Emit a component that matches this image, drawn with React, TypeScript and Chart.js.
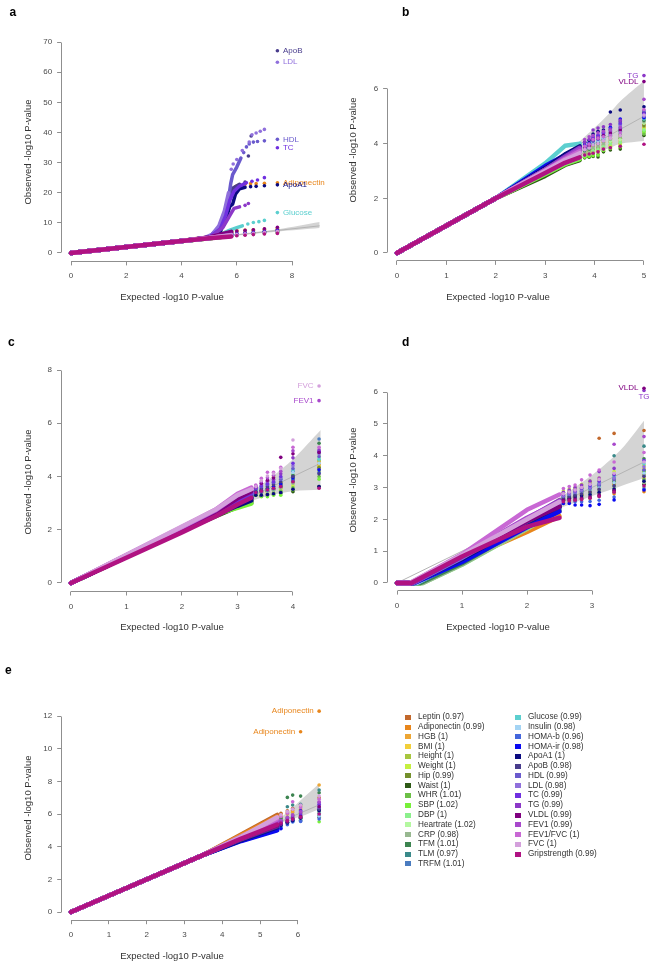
import React, { useEffect, useRef } from 'react';
import { Chart, registerables } from 'chart.js';

Chart.register(...registerables);

const FONT = '"Liberation Sans", Arial, Helvetica, sans-serif';
const CW = 700;
const CH = 1000;
const YW = 40;
const XH = 30;
const AXIS_COLOR = '#8f8f8f';
const TICK_COLOR = '#4a4a4a';
const TITLE_COLOR = '#333333';
const BAND_COLOR = '#d4d4d4';
const DIAG_COLOR = '#b4b4b4';

// ---------- series ----------
const seriesNames = ['Leptin','Adiponectin','HGB','BMI','Height','Weight','Hip','Waist','WHR','SBP','DBP','Heartrate','CRP','TFM','TLM','TRFM','Glucose','Insulin','HOMA-b','HOMA-ir','ApoA1','ApoB','HDL','LDL','TC','TG','VLDL','FEV1','FEV1/FVC','FVC','Gripstrength'];
const seriesLambda = ['0.97','0.99','1','1','1','1','0.99','1','1.01','1.02','1','1.02','0.98','1.01','0.97','1.01','0.99','0.98','0.96','0.98','1','0.98','0.99','0.98','0.99','0.99','0.99','0.99','1','1','0.99'];
const seriesColors = ['#c2682c','#e8861c','#eda634','#f2cf3a','#a8c63e','#c6f040','#74902c','#2e5a16','#6cc046','#78f03a','#8cf08c','#b4f8a0','#98b890','#3c8450','#3a8a8a','#4a7cc0','#5ccfcf','#a4d4f4','#4466dc','#0a0af0','#0a0a80','#483c8c','#6a5acd','#9070dc','#7030e0','#8c38c8','#800080','#a848cc','#c868d4','#d4a0dc','#b01282'];

// ---------- panel a ----------
const aXTicks = [0, 2, 4, 6, 8];
const aYTicks = [0, 10, 20, 30, 40, 50, 60, 70];
const aBandX = [5.5, 6.5, 7.5, 9.0];
const aBandHi = [5.6, 6.8, 7.9, 10.3];
const aBandLo = [5.4, 6.25, 7.15, 8.3];
const aBulkX = [0, 4, 5.0, 5.8];
const aAt50 = [5.05,null,5.1,4.95,5.0,4.95,4.9,4.9,4.95,5.0,4.9,4.95,5.05,5.0,5.0,4.95,null,5.0,5.0,5.05,null,null,null,null,null,null,5.15,5.0,4.95,4.95,4.85];
const aAt58 = [6.8,null,7.2,6.0,6.2,5.9,5.8,5.7,5.8,5.9,5.7,5.8,6.4,6.0,6.1,6.0,null,5.9,6.0,6.1,null,null,null,null,null,null,7.0,6.0,5.9,5.8,5.5];
const aTailX = [6.0, 6.3, 6.6, 7.0, 7.47];
const aTail60 = [7.1,null,7.5,6.2,6.4,6.1,6.0,5.9,6.0,6.1,5.9,6.0,6.7,6.2,6.3,6.2,null,6.1,6.2,6.4,null,null,null,null,null,null,7.3,6.2,6.1,6.0,5.7];
const aTail63 = [7.3,null,7.6,6.4,6.7,6.3,6.2,6.1,6.2,6.3,6.1,6.2,6.9,6.4,6.5,6.4,null,6.3,6.4,6.6,null,null,null,null,null,null,7.5,6.4,6.3,6.2,5.9];
const aTail66 = [7.5,null,7.7,6.6,6.9,6.5,6.4,6.3,6.4,6.5,6.3,6.4,7.1,6.6,6.7,6.6,null,6.5,6.6,6.8,null,null,null,null,null,null,7.7,6.6,6.5,6.4,6.1];
const aTail70 = [7.7,null,7.9,6.8,7.2,6.8,6.7,6.5,6.7,6.8,6.6,6.7,7.4,6.9,7.0,6.9,null,6.8,6.9,7.1,null,null,null,null,null,null,8.0,6.9,6.8,6.7,6.3];
const aTail747 = [7.9,null,8.2,7.0,7.5,7.0,6.9,6.7,6.9,7.1,6.8,7.0,7.7,7.2,7.3,7.2,null,7.1,7.3,7.6,null,null,null,null,null,null,8.5,7.3,7.1,7.0,6.5];
const aAdipoLine = [[4,4],[5.0,5.0],[5.4,8],[5.6,13],[5.7,17],[5.8,20.5],[5.95,22],[6.1,22.6]];
const aAdipoPts = [[6.3,22.8],[6.5,23.0],[6.7,23.0],[7.0,23.1],[7.47,23.3]];
const aGlucoseLine = [[4,4],[5.0,5.1],[5.5,6.5],[5.75,7.6],[6.0,8.4],[6.2,9.0]];
const aGlucosePts = [[6.4,9.6],[6.6,10.1],[6.8,10.4],[7.0,10.8],[7.47,13.4]];
const aApoA1Line = [[4,4],[5.0,5.0],[5.4,7],[5.6,11],[5.75,15.5],[5.85,16.2],[5.95,19.5],[6.1,21.3],[6.3,21.8]];
const aApoA1Pts = [[6.5,22.0],[6.7,22.1],[7.0,22.3],[7.47,22.6]];
const aApoBLine = [[4,4],[5.0,5.2],[5.35,8.5],[5.55,13],[5.7,18],[5.85,21.5],[6.1,22.8]];
const aApoBPts = [[6.3,23.5],[6.42,32.2],[6.52,38.8],[7.47,67.1]];
const aHdlLine = [[4,4],[4.9,5.0],[5.2,6.5],[5.45,10],[5.6,14],[5.7,18],[5.78,23],[5.85,26],[6.0,28.5],[6.15,31.5]];
const aHdlPts = [[6.25,33.3],[6.35,35.2],[6.45,36.2],[6.6,36.8],[6.75,37.0],[7.0,37.2],[7.47,37.7]];
const aLdlLine = [[4,4],[4.8,4.9],[5.1,6.2],[5.35,9],[5.55,14],[5.7,20]];
const aLdlPts = [[5.8,27.8],[5.87,29.5],[6.0,31.0],[6.2,34.0],[6.45,36.8],[6.55,39.2],[6.7,39.8],[6.85,40.4],[7.0,41.0],[7.47,63.3]];
const aTcLine = [[4,4],[5.0,5.2],[5.4,8],[5.6,12.5],[5.75,17.5],[5.9,20.5],[6.1,22.2],[6.35,23.3]];
const aTcPts = [[6.55,23.8],[6.75,24.2],[7.0,25.0],[7.47,34.9]];
const aTgLine = [[4,4],[5.1,5.5],[5.5,8.5],[5.75,12.5],[5.9,14.8],[6.1,15.3]];
const aTgPts = [[6.3,15.8],[6.42,16.4]];
const aLabelText = ['ApoB','LDL','HDL','TC','Adiponectin','ApoA1','Glucose'];
const aLabelX = [7.47,7.47,7.47,7.47,7.47,7.47,7.47];
const aLabelY = [67.1,63.3,37.7,34.9,23.3,22.6,13.4];
const aLabelSeries = [21,23,22,24,1,20,16];

// ---------- panel b ----------
const bXTicks = [0, 1, 2, 3, 4, 5];
const bYTicks = [0, 2, 4, 6];
const bBandX = [3.2, 3.5, 3.8, 4.07, 4.32, 4.52, 5.0];
const bBandHi = [3.3, 3.75, 4.25, 4.7, 5.15, 5.55, 6.3];
const bBandLo = [3.1, 3.3, 3.5, 3.7, 3.85, 4.0, 4.1];
const bBulkX = [0, 2.0, 3.0, 3.4, 3.7];
const bAt30 = [2.95,3.0,2.98,2.92,2.85,2.93,2.96,2.82,2.9,2.88,2.92,2.95,2.97,3.0,3.02,3.05,3.28,3.05,3.1,3.18,3.1,3.05,3.02,3.05,3.05,3.05,3.0,3.0,3.02,3.0,2.93];
const bAt34 = [3.3,3.38,3.35,3.28,3.25,3.3,3.33,3.22,3.26,3.25,3.28,3.32,3.36,3.4,3.42,3.45,3.92,3.45,3.5,3.58,3.6,3.48,3.42,3.48,3.5,3.52,3.45,3.48,3.44,3.4,3.3];
const bAt37 = [3.5,3.6,3.55,3.45,3.42,3.5,3.55,3.4,3.45,3.43,3.48,3.55,3.6,3.65,3.68,3.72,4.0,3.7,3.78,3.85,3.9,3.75,3.7,3.76,3.8,3.85,3.72,3.8,3.72,3.65,3.5];
const bTailX = [3.8, 3.89, 3.97, 4.07, 4.18, 4.32, 4.52, 5.0];
const bTail380 = [3.58,3.7,3.65,3.55,3.5,3.58,3.65,3.48,3.52,3.5,3.56,3.62,3.68,3.74,3.78,3.82,4.02,3.8,3.88,3.95,4.05,3.85,3.8,3.86,3.92,4.05,3.85,4.15,3.9,3.78,3.58];
const bTail389 = [3.62,3.75,3.7,3.58,3.52,3.62,3.7,3.5,3.55,3.53,3.6,3.67,3.73,3.8,3.84,3.88,4.05,3.86,3.95,4.02,4.12,3.92,3.86,3.93,4.0,4.15,3.92,4.25,3.98,3.84,3.62];
const bTail397 = [3.7,3.9,3.8,3.65,3.55,3.7,3.8,3.53,3.58,3.56,3.75,3.85,3.85,3.95,4.0,4.05,4.1,4.05,4.15,4.2,4.35,4.1,4.1,4.2,4.25,4.5,4.15,4.3,4.15,3.95,3.65];
const bTail407 = [3.75,3.95,3.85,3.7,3.6,3.75,3.85,3.51,3.6,3.58,3.8,3.9,3.9,4.0,4.05,4.1,4.15,4.1,4.25,4.3,4.45,4.2,4.15,4.25,4.3,4.57,4.2,4.4,4.2,4.0,3.7];
const bTail418 = [3.85,4.05,3.95,3.8,3.72,3.85,3.95,3.7,3.78,3.75,3.9,4.0,4.0,4.1,4.15,4.2,4.3,4.2,4.35,4.4,4.5,4.3,4.25,4.35,4.4,4.62,4.3,4.45,4.25,4.1,3.8];
const bTail432 = [3.95,4.2,4.05,3.9,3.8,3.95,4.1,3.77,3.85,3.82,4.0,4.1,4.15,4.25,4.3,4.35,4.4,4.3,4.5,4.6,5.16,4.5,4.35,4.45,4.55,4.7,4.4,4.5,4.3,4.2,3.85];
const bTail452 = [4.0,4.3,4.1,3.95,3.85,4.0,4.2,3.8,3.9,3.88,4.05,4.15,4.25,4.35,4.45,4.5,4.6,4.4,4.7,4.9,5.23,4.8,4.55,4.65,4.75,4.85,4.5,4.6,4.4,4.3,3.9];
const bTail500 = [4.7,4.9,4.6,4.5,4.4,4.55,4.65,4.3,4.35,4.45,4.5,4.75,4.8,4.85,5.0,4.95,4.9,5.05,5.1,4.95,5.35,5.15,5.2,5.0,5.1,6.49,6.27,5.62,5.25,5.05,3.98];
const bLabelText = ['TG','VLDL'];
const bLabelX = [5.0, 5.0];
const bLabelY = [6.49, 6.27];
const bLabelSeries = [25, 26];

// ---------- panel c ----------
const cXTicks = [0, 1, 2, 3, 4];
const cYTicks = [0, 2, 4, 6, 8];
const cBandX = [3.0, 3.3, 3.6, 4.0, 4.5];
const cBandHi = [3.1, 3.5, 3.95, 4.65, 5.75];
const cBandLo = [2.9, 3.12, 3.3, 3.45, 3.5];
const cBulkX = [0, 2.0, 2.6, 3.0, 3.25];
const cAt20 = [1.97,1.98,2.0,1.98,1.99,1.97,1.98,1.96,1.97,1.98,1.99,2.0,1.98,1.99,1.98,2.0,2.0,1.99,1.98,1.99,1.98,2.0,2.02,2.03,2.02,2.04,2.02,2.08,2.1,2.12,1.9];
const cAt26 = [2.55,2.58,2.6,2.55,2.57,2.53,2.56,2.5,2.55,2.58,2.6,2.62,2.56,2.6,2.57,2.6,2.62,2.6,2.55,2.57,2.55,2.6,2.63,2.65,2.64,2.68,2.65,2.72,2.75,2.75,2.5];
const cAt30 = [2.95,3.0,3.02,2.95,2.98,2.92,2.97,2.86,2.92,2.82,3.0,3.05,2.96,3.02,2.98,3.05,3.08,3.05,2.95,2.98,2.9,3.05,3.1,3.15,3.12,3.2,3.18,3.3,3.35,3.3,2.95];
const cAt325 = [3.15,3.2,3.25,3.12,3.18,3.1,3.16,3.02,3.1,2.98,3.2,3.28,3.15,3.25,3.2,3.3,3.32,3.3,3.18,3.2,3.1,3.3,3.35,3.4,3.38,3.45,3.45,3.55,3.58,3.52,3.2];
const cTailX = [3.33, 3.43, 3.54, 3.65, 3.78, 4.0, 4.47];
const cTail333 = [3.35,3.4,3.45,3.32,3.38,3.3,3.36,3.3,3.32,3.3,3.42,3.48,3.35,3.45,3.4,3.5,3.52,3.5,3.38,3.42,3.3,3.5,3.55,3.58,3.56,3.6,3.62,3.65,3.68,3.62,3.4];
const cTail343 = [3.4,3.45,3.5,3.35,3.42,3.32,3.4,3.26,3.3,3.24,3.46,3.55,3.38,3.5,3.44,3.58,3.6,3.56,3.42,3.48,3.3,3.55,3.62,3.66,3.64,3.72,3.75,3.8,3.93,3.85,3.45];
const cTail354 = [3.45,3.5,3.58,3.4,3.48,3.35,3.45,3.28,3.34,3.24,3.52,3.62,3.42,3.56,3.5,3.66,3.7,3.64,3.48,3.55,3.32,3.62,3.7,3.75,3.72,3.82,3.86,3.95,4.16,4.02,3.5];
const cTail365 = [3.52,3.58,3.66,4.0,3.55,3.4,3.5,3.32,3.38,3.3,3.58,3.7,3.48,3.62,3.56,3.74,3.78,3.72,3.54,3.62,3.35,3.7,3.78,3.84,3.8,3.9,3.95,4.05,4.16,4.1,3.56];
const cTail378 = [3.6,3.68,3.78,3.55,3.65,3.48,3.6,3.36,3.45,3.3,3.7,3.82,3.58,3.74,3.66,3.88,3.92,3.86,3.64,3.72,3.4,3.8,3.9,3.96,4.0,4.1,4.72,4.2,4.35,4.3,3.62];
const cTail400 = [3.8,3.9,4.0,3.75,3.85,3.65,3.78,3.43,3.58,3.5,3.95,4.1,3.75,4.05,3.9,4.2,4.25,4.15,3.85,3.95,3.52,4.0,4.3,4.4,4.5,4.7,4.85,4.97,5.1,5.37,3.8];
const cTail447 = [4.3,4.45,4.55,4.4,4.6,4.2,4.35,3.62,4.0,3.9,4.7,4.8,4.25,5.25,4.9,5.41,4.65,4.5,4.15,4.25,3.62,4.1,4.75,4.85,4.95,5.0,4.9,6.85,5.1,7.4,3.56];
const cLabelText = ['FVC','FEV1'];
const cLabelX = [4.47, 4.47];
const cLabelY = [7.4, 6.85];
const cLabelSeries = [29, 27];

// ---------- panel d ----------
const dXTicks = [0, 1, 2, 3];
const dYTicks = [0, 1, 2, 3, 4, 5, 6];
const dBandX = [2.3, 2.7, 3.1, 3.45, 3.8];
const dBandHi = [2.4, 2.95, 3.55, 4.2, 5.1];
const dBandLo = [2.2, 2.5, 2.8, 3.05, 3.3];
const dStartX = [0.3,0.3,0.28,0.25,0.32,0.28,0.35,0.35,0.38,0.35,0.4,0.38,0.4,0.36,0.32,0.3,0.28,0.3,0.25,0.27,0.25,0.26,0.25,0.24,0.24,0.22,0.22,0.22,0.2,0.2,0.22];
const dBulkX = [1.0, 2.0, 2.5];
const dAt10 = [0.72,0.7,0.74,0.78,0.7,0.73,0.65,0.62,0.6,0.63,0.57,0.6,0.58,0.62,0.68,0.72,0.75,0.73,0.7,0.66,0.75,0.78,0.8,0.8,0.82,0.85,0.86,0.87,0.9,0.88,0.83];
const dAt20 = [1.75,1.6,1.7,1.85,1.9,1.95,1.82,1.78,1.8,1.85,1.7,1.75,1.72,1.8,1.85,1.88,1.9,1.85,1.8,1.75,1.9,1.92,1.95,1.98,2.0,2.02,1.95,2.05,2.3,2.0,1.77];
const dAt25 = [2.3,2.1,2.25,2.5,2.55,2.6,2.45,2.4,2.42,2.5,2.3,2.35,2.32,2.4,2.45,2.48,2.5,2.45,2.35,2.25,2.4,2.45,2.5,2.52,2.55,2.6,2.4,2.55,2.78,2.55,2.05];
const dTailX = [2.56, 2.65, 2.74, 2.84, 2.97, 3.11, 3.34, 3.8];
const dTail256 = [2.6,2.52,2.6,2.8,2.85,2.9,2.7,2.62,2.65,2.75,2.55,2.6,2.58,2.66,2.7,2.72,2.76,2.7,2.58,2.5,2.62,2.68,2.72,2.74,2.78,2.85,2.6,2.8,2.97,2.8,2.55];
const dTail265 = [2.65,2.55,2.65,2.86,2.9,2.95,2.75,2.66,2.7,2.8,2.58,2.64,2.62,2.72,2.75,2.78,2.82,2.76,2.6,2.5,2.66,2.72,2.78,2.8,2.84,2.92,2.62,2.86,3.03,2.86,2.58];
const dTail274 = [2.7,2.58,2.7,2.92,2.96,3.0,2.8,2.68,2.74,2.86,2.6,2.68,2.65,2.78,2.8,2.84,2.88,2.8,2.55,2.45,2.7,2.76,2.84,2.86,2.9,3.0,2.64,2.92,3.08,2.92,2.6];
const dTail284 = [2.78,2.62,2.76,3.0,3.05,3.1,2.86,2.7,2.78,2.94,2.62,2.72,2.68,2.84,2.88,2.9,2.95,2.86,2.55,2.45,2.74,2.8,2.9,2.92,2.98,3.08,2.66,3.0,3.24,3.0,2.62];
const dTail297 = [2.86,2.66,2.84,3.08,3.14,3.2,2.92,2.74,2.82,3.02,2.66,2.78,2.72,2.92,2.96,2.98,3.04,2.92,2.56,2.43,2.78,2.86,2.98,3.0,3.06,3.2,2.7,3.1,3.39,3.1,2.66];
const dTail311 = [4.55,2.72,2.95,3.2,3.25,3.3,3.0,2.8,2.9,3.12,2.72,2.86,2.8,3.02,3.06,3.1,3.15,3.0,2.6,2.47,2.85,2.94,3.08,3.12,3.2,3.5,2.76,3.3,3.55,3.25,2.72];
const dTail334 = [4.7,2.8,3.1,3.35,3.4,3.5,3.15,2.9,3.05,3.25,2.85,3.0,2.95,3.2,4.0,3.3,3.35,3.15,2.7,2.61,2.95,3.05,3.25,3.3,3.4,3.6,2.9,4.36,3.8,3.45,2.85];
const dTail380 = [4.79,2.87,3.3,3.6,3.5,3.7,3.4,3.1,3.25,3.5,3.0,3.2,3.15,3.9,4.3,3.55,3.75,3.45,2.95,2.92,3.2,3.35,3.55,3.65,3.85,6.05,6.12,4.6,4.1,3.8,3.05];
const dLabelText = ['VLDL','TG'];
const dLabelX = [3.8, 3.8];
const dLabelY = [6.12, 6.05];
const dLabelSeries = [26, 25];

// ---------- panel e ----------
const eXTicks = [0, 1, 2, 3, 4, 5, 6];
const eYTicks = [0, 2, 4, 6, 8, 10, 12];
const eBandX = [5.3, 5.72, 6.07, 6.56];
const eBandHi = [5.4, 6.1, 6.85, 7.85];
const eBandLo = [5.2, 5.6, 5.85, 6.3];
const eBulkX = [0, 3.5, 4.5, 5.45];
const eAt45 = [4.75,4.7,4.65,4.55,4.6,4.5,4.48,4.45,4.55,4.5,4.48,4.52,4.5,4.6,4.55,4.4,4.45,4.4,4.38,4.35,4.4,4.45,4.5,4.55,4.5,4.55,4.5,4.58,4.62,4.6,4.5];
const eAt545 = [5.95,5.85,5.7,5.45,5.55,5.3,5.35,5.25,5.45,5.3,5.25,5.35,5.4,5.6,5.5,5.15,5.2,5.1,5.05,5.0,5.2,5.25,5.35,5.4,5.3,5.45,5.3,5.5,5.7,5.8,5.35];
const eTailX = [5.55, 5.72, 5.86, 6.07, 6.56];
const eTail555 = [6.05,5.95,5.8,5.55,5.65,5.4,5.45,5.35,5.55,5.4,5.35,5.45,5.5,5.75,5.6,5.25,5.3,5.2,5.15,5.1,5.3,5.35,5.45,5.5,5.4,5.55,5.4,5.6,5.85,5.95,5.45];
const eTail572 = [6.2,6.1,6.0,5.7,5.8,5.5,5.6,5.45,5.7,5.55,5.5,5.6,5.65,7.02,6.45,5.45,5.5,5.4,5.35,5.5,5.45,5.5,5.6,5.7,5.6,5.75,5.55,5.8,6.05,6.15,5.6];
const eTail586 = [6.35,6.2,6.1,5.8,5.95,5.6,5.7,5.55,5.8,5.65,5.6,5.7,5.75,7.16,6.55,5.55,5.6,5.5,5.53,5.6,5.6,5.65,5.7,5.85,5.75,5.9,5.7,5.95,6.75,6.3,5.7];
const eTail607 = [6.5,11.04,6.3,5.9,6.05,5.7,5.8,5.6,5.9,5.75,5.65,5.8,5.85,7.1,6.6,5.6,5.7,5.6,5.55,6.2,5.75,5.8,5.9,6.0,5.95,6.1,5.85,6.15,6.4,6.55,5.8];
const eTail656 = [7.0,12.3,7.78,6.3,6.5,5.9,6.1,5.8,6.2,5.53,5.9,6.1,6.25,7.3,7.47,5.9,6.05,5.85,5.7,6.27,6.2,6.3,6.4,6.5,6.6,6.7,6.45,6.75,6.9,7.1,6.0];
const eLabelText = ['Adiponectin','Adiponectin'];
const eLabelX = [6.56, 6.07];
const eLabelY = [12.3, 11.04];
const eLabelSeries = [1, 1];

// ---------- types & builders ----------
type Num = number | null;
type Vertex = { x: number | Num[]; y: number | Num[] };
interface Panel {
  letter: string; letterX: number; letterY: number;
  area: { left: number; right: number; top: number; bottom: number };
  xMin: number; xMax: number; yMin: number; yMax: number;
  xTicks: number[]; yTicks: number[];
  xTitle: [number, number]; yTitle: [number, number];
  bandX: number[]; bandHi: number[]; bandLo: number[];
  diagMax: number;
  bulk: Vertex[];
  tailX: number[]; tailY: Num[][];
  extra: { series: number; line: number[][]; pts: number[][] }[];
  labelText: string[]; labelX: number[]; labelY: number[]; labelSeries: number[]; labelPos: string;
  labelPos2?: string[];
}

const pick = (v: number | Num[], i: number): Num => (typeof v === 'number' ? v : v[i]);

const panels: Panel[] = [
  {
    letter: 'a', letterX: 9.5, letterY: 15.5,
    area: { left: 61.1, right: 329.6, top: 33.6, bottom: 261.4 },
    xMin: -0.36, xMax: 9.36, yMin: -2.8, yMax: 72.8,
    xTicks: aXTicks, yTicks: aYTicks, xTitle: [172, 297], yTitle: [28, 152],
    bandX: aBandX, bandHi: aBandHi, bandLo: aBandLo, diagMax: 9,
    bulk: aBulkX.map((x, k) => ({ x, y: [0, 4, aAt50, aAt58][k] as any })),
    tailX: aTailX, tailY: [aTail60, aTail63, aTail66, aTail70, aTail747],
    extra: [
      { series: 1, line: aAdipoLine, pts: aAdipoPts },
      { series: 16, line: aGlucoseLine, pts: aGlucosePts },
      { series: 20, line: aApoA1Line, pts: aApoA1Pts },
      { series: 21, line: aApoBLine, pts: aApoBPts },
      { series: 22, line: aHdlLine, pts: aHdlPts },
      { series: 23, line: aLdlLine, pts: aLdlPts },
      { series: 24, line: aTcLine, pts: aTcPts },
      { series: 25, line: aTgLine, pts: aTgPts },
    ],
    labelText: aLabelText, labelX: aLabelX, labelY: aLabelY, labelSeries: aLabelSeries, labelPos: 'right',
  },
  {
    letter: 'b', letterX: 402, letterY: 15.5,
    area: { left: 387.1, right: 648.9, top: 68.2, bottom: 260.9 },
    xMin: -0.2, xMax: 5.1, yMin: -0.29, yMax: 6.76,
    xTicks: bXTicks, yTicks: bYTicks, xTitle: [498, 297], yTitle: [353, 150],
    bandX: bBandX, bandHi: bBandHi, bandLo: bBandLo, diagMax: 5,
    bulk: bBulkX.map((x, k) => ({ x, y: [0, 2.0, bAt30, bAt34, bAt37][k] as any })),
    tailX: bTailX, tailY: [bTail380, bTail389, bTail397, bTail407, bTail418, bTail432, bTail452, bTail500],
    extra: [],
    labelText: bLabelText, labelX: bLabelX, labelY: bLabelY, labelSeries: bLabelSeries, labelPos: 'left',
  },
  {
    letter: 'c', letterX: 8, letterY: 345.5,
    area: { left: 61, right: 330.7, top: 361.5, bottom: 591.5 },
    xMin: -0.18, xMax: 4.68, yMin: -0.32, yMax: 8.32,
    xTicks: cXTicks, yTicks: cYTicks, xTitle: [172, 627], yTitle: [28, 482],
    bandX: cBandX, bandHi: cBandHi, bandLo: cBandLo, diagMax: 4.5,
    bulk: cBulkX.map((x, k) => ({ x, y: [0, cAt20, cAt26, cAt30, cAt325][k] as any })),
    tailX: cTailX, tailY: [cTail333, cTail343, cTail354, cTail365, cTail378, cTail400, cTail447],
    extra: [],
    labelText: cLabelText, labelX: cLabelX, labelY: cLabelY, labelSeries: cLabelSeries, labelPos: 'left',
  },
  {
    letter: 'd', letterX: 402, letterY: 345.5,
    area: { left: 387, right: 650.5, top: 382.5, bottom: 590.6 },
    xMin: -0.154, xMax: 3.9, yMin: -0.24, yMax: 6.3,
    xTicks: dXTicks, yTicks: dYTicks, xTitle: [498, 627], yTitle: [353, 480],
    bandX: dBandX, bandHi: dBandHi, bandLo: dBandLo, diagMax: 3.8,
    bulk: [{ x: 0, y: 0 }, { x: dStartX, y: 0 }, ...dBulkX.map((x, k) => ({ x, y: [dAt10, dAt20, dAt25][k] }))],
    tailX: dTailX, tailY: [dTail256, dTail265, dTail274, dTail284, dTail297, dTail311, dTail334, dTail380],
    extra: [],
    labelText: dLabelText, labelX: dLabelX, labelY: dLabelY, labelSeries: dLabelSeries, labelPos: 'left',
    labelPos2: ['left', 'below'],
  },
  {
    letter: 'e', letterX: 5, letterY: 673.5,
    area: { left: 61.2, right: 326.7, top: 703, bottom: 920.2 },
    xMin: -0.26, xMax: 6.76, yMin: -0.5, yMax: 12.8,
    xTicks: eXTicks, yTicks: eYTicks, xTitle: [172, 956], yTitle: [28, 808],
    bandX: eBandX, bandHi: eBandHi, bandLo: eBandLo, diagMax: 6.56,
    bulk: eBulkX.map((x, k) => ({ x, y: [0, 3.5, eAt45, eAt545][k] as any })),
    tailX: eTailX, tailY: [eTail555, eTail572, eTail586, eTail607, eTail656],
    extra: [],
    labelText: eLabelText, labelX: eLabelX, labelY: eLabelY, labelSeries: eLabelSeries, labelPos: 'left',
  },
];

function buildDatasets(p: Panel): any[] {
  const ds: any[] = [];
  ds.push({ type: 'line', data: p.bandX.map((x, k) => ({ x, y: p.bandHi[k] })), borderWidth: 0, borderColor: 'rgba(0,0,0,0)', pointRadius: 0, backgroundColor: BAND_COLOR, fill: '+1', tension: 0.3, order: 1000 });
  ds.push({ type: 'line', data: p.bandX.map((x, k) => ({ x, y: p.bandLo[k] })), borderWidth: 0, borderColor: 'rgba(0,0,0,0)', pointRadius: 0, fill: false, tension: 0.3, order: 1000 });
  ds.push({ type: 'line', data: [{ x: 0, y: 0 }, { x: p.diagMax, y: p.diagMax }], borderWidth: 1, borderColor: DIAG_COLOR, pointRadius: 0, fill: false, order: 999 });
  seriesNames.forEach((name, i) => {
    const color = seriesColors[i];
    const base = (seriesNames.length - i) * 4;
    const line: { x: number; y: number }[] = [];
    p.bulk.forEach((v) => {
      const x = pick(v.x, i);
      const y = pick(v.y, i);
      if (x != null && y != null) line.push({ x, y });
    });
    ds.push({ type: 'line', label: name, data: line, borderColor: color, borderWidth: 4.5, pointRadius: 0, fill: false, borderCapStyle: 'round', borderJoinStyle: 'round', order: base + 3 });
    const ex = p.extra.find((e) => e.series === i);
    if (ex) {
      ds.push({ type: 'line', data: ex.line.map(([x, y]) => ({ x, y })), borderColor: color, borderWidth: 3.5, pointRadius: 0, fill: false, borderCapStyle: 'round', borderJoinStyle: 'round', order: base + 2 });
    }
    const tail: { x: number; y: number }[] = [];
    p.tailX.forEach((x, k) => {
      const y = p.tailY[k][i];
      if (y != null) tail.push({ x, y });
    });
    if (ex) ex.pts.forEach(([x, y]) => tail.push({ x, y }));
    ds.push({ type: 'scatter', data: tail, showLine: false, pointRadius: 1.8, pointBorderWidth: 0, pointBackgroundColor: color, backgroundColor: color, borderColor: color, order: base + 1 });
  });
  return ds;
}

function axisOptions(min: number, max: number, ticks: number[], isX: boolean) {
  return {
    type: 'linear',
    position: isX ? 'bottom' : 'left',
    min, max, bounds: 'data',
    afterBuildTicks: (s: any) => { s.ticks = ticks.map((v) => ({ value: v })); },
    afterFit: (s: any) => { if (isX) s.height = XH; else s.width = YW; },
    grid: { display: true, drawOnChartArea: false, drawTicks: true, tickLength: 4, color: AXIS_COLOR, lineWidth: 1 },
    border: { display: false },
    ticks: { autoSkip: false, maxRotation: 0, minRotation: 0, padding: isX ? 6 : 5, color: TICK_COLOR, font: { family: FONT, size: 8 }, callback: (v: any) => String(v) },
  };
}

function decorPlugin(p: Panel) {
  const al = (v: number) => Math.round(v - 0.5) + 0.5;
  return {
    id: 'decor' + p.letter,
    afterDraw(chart: any) {
      const ctx = chart.ctx;
      const xs = chart.scales.x;
      const ys = chart.scales.y;
      const a = chart.chartArea;
      ctx.save();
      ctx.strokeStyle = AXIS_COLOR;
      ctx.lineWidth = 1;
      ctx.beginPath();
      const yb = al(a.bottom);
      ctx.moveTo(al(xs.getPixelForValue(p.xTicks[0])), yb);
      ctx.lineTo(al(xs.getPixelForValue(p.xTicks[p.xTicks.length - 1])), yb);
      const xl = al(a.left);
      ctx.moveTo(xl, al(ys.getPixelForValue(p.yTicks[0])));
      ctx.lineTo(xl, al(ys.getPixelForValue(p.yTicks[p.yTicks.length - 1])));
      ctx.stroke();

      ctx.font = `8px ${FONT}`;
      ctx.textBaseline = 'middle';
      p.labelText.forEach((t, k) => {
        const px = xs.getPixelForValue(p.labelX[k]);
        const py = ys.getPixelForValue(p.labelY[k]);
        ctx.fillStyle = seriesColors[p.labelSeries[k]];
        const pos = p.labelPos2 ? p.labelPos2[k] : p.labelPos;
        if (pos === 'right') { ctx.textAlign = 'left'; ctx.fillText(t, px + 5.5, py); }
        else if (pos === 'left') { ctx.textAlign = 'right'; ctx.fillText(t, px - 5.5, py); }
        else { ctx.textAlign = 'center'; ctx.fillText(t, px, py + 6); }
      });

      ctx.fillStyle = TITLE_COLOR;
      ctx.font = `9.5px ${FONT}`;
      ctx.textAlign = 'center';
      ctx.textBaseline = 'middle';
      ctx.fillText('Expected -log10 P-value', p.xTitle[0], p.xTitle[1]);
      ctx.save();
      ctx.translate(p.yTitle[0], p.yTitle[1]);
      ctx.rotate(-Math.PI / 2);
      ctx.fillText('Observed -log10 P-value', 0, 0);
      ctx.restore();

      ctx.fillStyle = '#000';
      ctx.font = `bold 12px ${FONT}`;
      ctx.textAlign = 'left';
      ctx.textBaseline = 'alphabetic';
      ctx.fillText(p.letter, p.letterX, p.letterY);
      ctx.restore();
    },
  };
}

function buildConfig(p: Panel): any {
  return {
    type: 'scatter',
    data: { datasets: buildDatasets(p) },
    options: {
      responsive: false,
      animation: false,
      devicePixelRatio: 1,
      events: [],
      layout: { padding: { left: p.area.left - YW, right: CW - p.area.right, top: p.area.top, bottom: CH - p.area.bottom - XH } },
      plugins: { legend: { display: false }, tooltip: { enabled: false }, title: { display: false } },
      scales: {
        x: axisOptions(p.xMin, p.xMax, p.xTicks, true),
        y: axisOptions(p.yMin, p.yMax, p.yTicks, false),
      },
    },
    plugins: [decorPlugin(p)],
  };
}

function PanelChart({ spec }: { spec: Panel }) {
  const ref = useRef<HTMLCanvasElement>(null);
  useEffect(() => {
    if (!ref.current) return;
    const chart = new Chart(ref.current, buildConfig(spec));
    return () => chart.destroy();
  }, [spec]);
  return <canvas ref={ref} width={CW} height={CH} style={{ position: 'absolute', left: 0, top: 0, width: CW, height: CH }} />;
}

const LEG_TOP = 717.3;
const LEG_STEP = 9.77;
const LEG_ROWS = 16;

function Legend() {
  return (
    <>
      {seriesNames.map((n, i) => {
        const col = i < LEG_ROWS ? 0 : 1;
        const row = col === 0 ? i : i - LEG_ROWS;
        const cy = LEG_TOP + row * LEG_STEP;
        const sx = col === 0 ? 405 : 515;
        const tx = col === 0 ? 418 : 528;
        return (
          <React.Fragment key={n}>
            <div style={{ position: 'absolute', left: sx, top: cy - 2.5, width: 6, height: 5, background: seriesColors[i] }} />
            <div style={{ position: 'absolute', left: tx, top: cy - 6, height: 12, lineHeight: '12px', fontSize: '8.2px', fontFamily: FONT, color: '#333', whiteSpace: 'nowrap' }}>
              {`${n} (${seriesLambda[i]})`}
            </div>
          </React.Fragment>
        );
      })}
    </>
  );
}

export default function App() {
  return (
    <div style={{ position: 'absolute', left: 0, top: 0, width: 652, height: 965, overflow: 'hidden', background: '#fff' }}>
      {panels.map((p) => (
        <PanelChart key={p.letter} spec={p} />
      ))}
      <Legend />
    </div>
  );
}
